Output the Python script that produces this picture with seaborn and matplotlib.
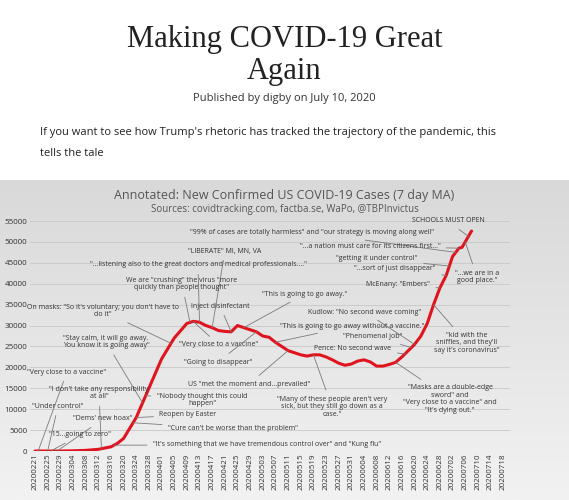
import numpy as np
import pandas as pd
import matplotlib
matplotlib.use("Agg")
import matplotlib.pyplot as plt
import seaborn as sns
from datetime import date, timedelta

sns.set_theme(style="white")
plt.rcParams['font.family'] = ['Open Sans', 'DejaVu Sans']

# ---- data ----
dates = ["20200221","20200225","20200229","20200304","20200308","20200312","20200316","20200318",
         "20200320","20200324","20200328","20200401","20200405","20200409","20200411","20200413",
         "20200415","20200417","20200419","20200421","20200423","20200425","20200427","20200429",
         "20200501","20200503","20200505","20200507","20200509","20200511","20200513","20200515",
         "20200517","20200519","20200521","20200523","20200525","20200527","20200529","20200531",
         "20200602","20200604","20200606","20200608","20200610","20200612","20200614","20200616",
         "20200618","20200620","20200622","20200624","20200626","20200628","20200630","20200702",
         "20200704","20200705","20200706","20200708"]
cases = [0,0,0,50,150,400,1000,1800,
         3000,8000,15000,22000,27000,30500,31000,30800,
         30000,29500,28800,28600,28500,30000,29500,29000,
         28500,27500,27200,26000,25000,24000,23500,23000,
         22700,23000,23000,22500,21800,21000,20500,20800,
         21500,21800,21300,20300,20300,20700,21200,22500,
         24000,25500,27500,30500,35000,39000,42000,46500,
         48500,48700,50000,52600]
start = date(2020, 2, 21)
tick_labels = [(start + timedelta(days=4*i)).strftime("%Y%m%d") for i in range(38)]
yticks = list(range(0, 55001, 5000))

# annotations: (text, target date, text position in figure pixels)
annotations = [
    ('"99% of cases are totally harmless" and "our strategy is moving along well"', "20200703", (312, 233)),
    ('"...a nation must care for its citizens first..."', "20200704", (370, 246)),
    ('"getting it under control"', "20200701", (377, 259)),
    ('"...sort of just disappear"', "20200630", (395, 269)),
    ('McEnany: "Embers"', "20200628", (398, 285)),
    ('SCHOOLS MUST OPEN', "20200707", (448, 221)),
    ('"...we are in a\ngood place."', "20200706", (477, 277)),
    ('"LIBERATE" MI, MN, VA', "20200417", (225, 251)),
    ('"...listening also to the great doctors and medical professionals...."', "20200413", (198, 265)),
    ('We are "crushing" the virus "more\nquickly than people thought"', "20200410", (182, 284)),
    ('"This is going to go away."', "20200427", (305, 294)),
    ('Inject disinfectant', "20200423", (220, 306)),
    ('On masks: "So it\'s voluntary; you don\'t have to\ndo it"', "20200404", (103, 311)),
    ('Kudlow: "No second wave coming"', "20200620", (365, 312)),
    ('"This is going to go away without a vaccine."', "20200507", (352, 326)),
    ('"Stay calm, it will go away.\nYou know it is going away"', "20200326", (106, 342)),
    ('"Very close to a vaccine"', "20200411", (219, 345)),
    ('"Phenomenal job"', "20200619", (373, 337)),
    ('"Going to disappear"', "20200501", (218, 362)),
    ('Pence: No second wave', "20200617", (353, 349)),
    ('"kid with the\nsniffles, and they\'ll\nsay it\'s coronavirus"', "20200626", (467, 343)),
    ('"Very close to a vaccine"', "20200222", (67, 372)),
    ('US "met the moment and...prevailed"', "20200511", (249, 384)),
    ('"Many of these people aren\'t very\nsick, but they still go down as a\ncase."', "20200519", (332, 407)),
    ('"Masks are a double-edge\nsword" and\n"Very close to a vaccine" and\n"It\'s dying out."', "20200614", (450, 399)),
    ('"I don\'t take any responsibility\nat all"', "20200313", (99, 393)),
    ('"Nobody thought this could\nhappen"', "20200327", (202, 400)),
    ('"Under control"', "20200225", (58, 406)),
    ('Reopen by Easter', "20200324", (188, 415)),
    ('"Dems\' new hoax"', "20200228", (103, 419)),
    ('"Cure can\'t be worse than the problem"', "20200323", (233, 429)),
    ('"15...going to zero"', "20200226", (80, 435)),
    ('"It\'s something that we have tremendous control over" and "Kung flu"', "20200317", (267, 445)),
]

def day_index(s):
    return (date(int(s[:4]), int(s[4:6]), int(s[6:])) - start).days

df = pd.DataFrame({"day": [day_index(d) for d in dates], "cases": cases})

W, H = 569, 500
fig = plt.figure(figsize=(W/100, H/100), dpi=100)
fig.patch.set_facecolor("white")

# header text
fig.text(0.5, 1-40/H, "Making COVID-19 Great", ha="center", va="center", fontsize=22,
         family="Liberation Serif", color="#222222")
fig.text(0.5, 1-72/H, "Again", ha="center", va="center", fontsize=22,
         family="Liberation Serif", color="#222222")
fig.text(0.5, 1-99/H, "Published by digby on July 10, 2020", ha="center", va="center",
         fontsize=8, color="#333333")
fig.text(40/W, 1-133/H, "If you want to see how Trump's rhetoric has tracked the trajectory of the pandemic, this",
         ha="left", va="center", fontsize=8, color="#222222")
fig.text(40/W, 1-154/H, "tells the tale", ha="left", va="center", fontsize=8, color="#222222")

# gray gradient background for chart image
bg = fig.add_axes([0, 0, 1, 320/H])
grad = np.linspace(1.0, 0.0, 256).reshape(-1, 1)
bg.imshow(grad, aspect="auto", cmap=matplotlib.colors.LinearSegmentedColormap.from_list(
    "g", ["#f2f2f2", "#d9d9d9"]), extent=[0, 1, 0, 1])
bg.set_axis_off()

x0, x1 = 30, 510
ytop, ybot = 221, 451
ax = fig.add_axes([x0/W, 1-ybot/H, (x1-x0)/W, (ybot-ytop)/H])
ax.patch.set_alpha(0)
sns.lineplot(data=df, x="day", y="cases", ax=ax, color="#e0141e", linewidth=2.2)
ppd = 465/147
ax.set_xlim(-(35-x0)/ppd, 147 + (x1-500)/ppd)
ax.set_ylim(0, 55000)
ax.set_yticks(yticks)
ax.set_yticklabels([str(v) for v in yticks], fontsize=5.8, color="#333333")
ax.set_xticks([4*i for i in range(len(tick_labels))])
ax.set_xticklabels(tick_labels, rotation=90, fontsize=5.8, color="#333333")
ax.tick_params(length=0, pad=2)
ax.yaxis.grid(True, color="#c8c8c8", linewidth=0.6)
for s in ax.spines.values():
    s.set_visible(False)
ax.axhline(0, color="#bbbbbb", linewidth=0.6)
ax.set_xlabel(""); ax.set_ylabel("")

fig.text(0.5, 1-195/H, "Annotated: New Confirmed US COVID-19 Cases (7 day MA)", ha="center",
         va="center", fontsize=9, color="#555555")
fig.text(0.5, 1-210/H, "Sources: covidtracking.com, factba.se, WaPo, @TBPInvictus", ha="center",
         va="center", fontsize=7, color="#555555")

for text, d, (px, py) in annotations:
    di = day_index(d)
    yv = np.interp(di, df["day"], df["cases"])
    ax.annotate(text, xy=(di, yv), xycoords="data",
                xytext=(px/W, 1-py/H), textcoords="figure fraction",
                ha="center", va="center", fontsize=5, color="#333333",
                linespacing=1.1,
                arrowprops=dict(arrowstyle="-", color="#7a7a7a", lw=0.6, shrinkA=2, shrinkB=0))

fig.savefig("out.png", dpi=100)
